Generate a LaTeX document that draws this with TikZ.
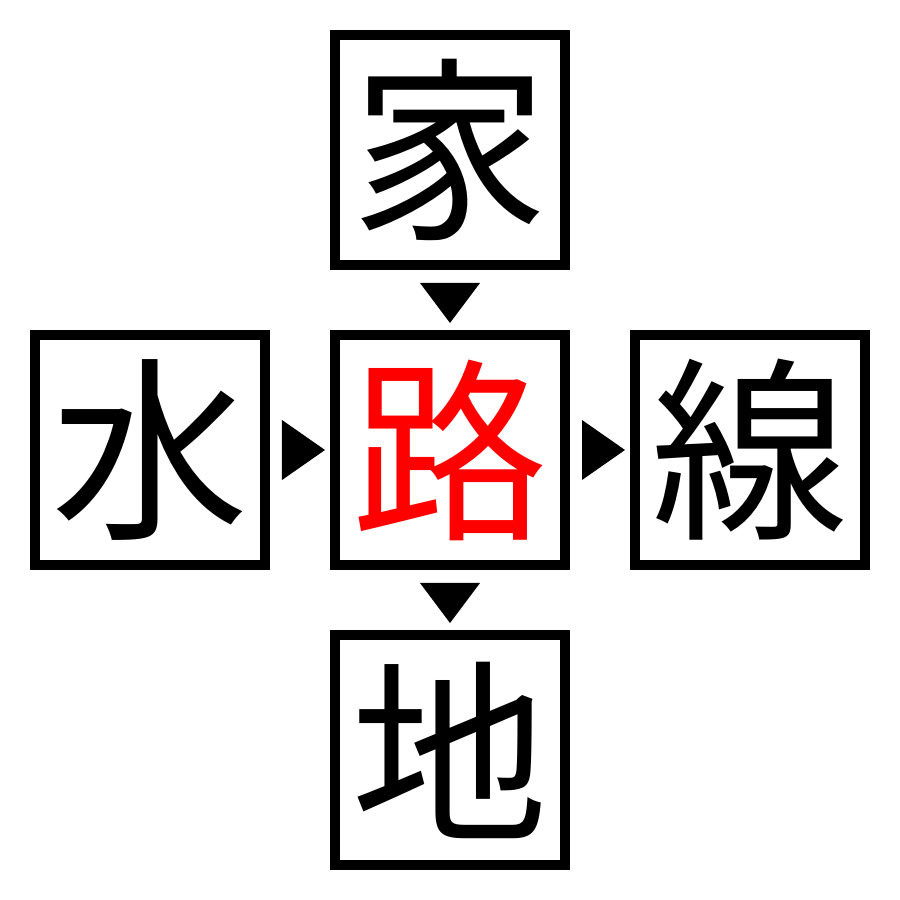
\documentclass[tikz,border=0pt]{standalone}
\usepackage{fontspec}
\newfontfamily\cjk{Noto Sans CJK JP}
\usetikzlibrary{positioning,calc}
\tikzset{
  kanji/.style={draw,line width=0.1cm,minimum size=2.3cm,inner sep=0pt,font=\cjk\fontsize{56}{56}\selectfont},
  tip/.style={fill=black}
}
\begin{document}
\begin{tikzpicture}
  \useasboundingbox (0,0) rectangle (9,9);
  \node[kanji,text=red] (road) at (4.5,4.5) {路};
  \node[kanji,above=0.6cm of road] (home) {家};
  \node[kanji,left=0.6cm of road] (water) {水};
  \node[kanji,right=0.6cm of road] (line) {線};
  \node[kanji,below=0.6cm of road] (earth) {地};
  \fill[tip] ($(home.south)+(-0.3,-0.13)$) -- ++(0.6,0) -- ($(road.north)+(0,0.07)$) -- cycle;
  \fill[tip] ($(road.south)+(-0.3,-0.13)$) -- ++(0.6,0) -- ($(earth.north)+(0,0.07)$) -- cycle;
  \fill[tip] ($(water.east)+(0.12,0.3)$) -- ++(0,-0.6) -- ($(road.west)+(-0.05,0)$) -- cycle;
  \fill[tip] ($(road.east)+(0.12,0.3)$) -- ++(0,-0.6) -- ($(line.west)+(-0.05,0)$) -- cycle;
\end{tikzpicture}
\end{document}
